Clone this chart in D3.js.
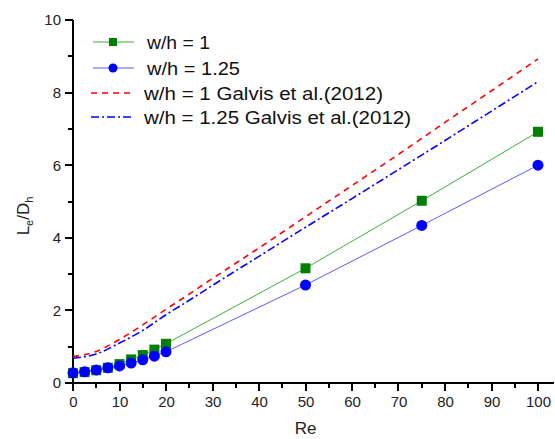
<!DOCTYPE html>
<html><head><meta charset="utf-8">
<script src="https://cdn.jsdelivr.net/npm/d3@7"></script>
<style>body{margin:0;background:#fff}svg{display:block}text{font-family:"Liberation Sans",Arial,sans-serif}</style>
</head><body><svg id="c" width="555" height="439"></svg>
<script>
const reSim = [0, 2.5, 5, 7.5, 10, 12.5, 15, 17.5, 20, 50, 75, 100];
const wh1 = [0.27, 0.30, 0.35, 0.42, 0.52, 0.65, 0.77, 0.92, 1.08, 3.16, 5.02, 6.92];
const wh125 = [0.28, 0.31, 0.36, 0.42, 0.47, 0.55, 0.64, 0.74, 0.86, 2.70, 4.34, 6.00];
const reGalvis = [0, 5, 10, 15, 20, 25, 30, 40, 50, 60, 70, 80, 90, 100];
const galvis1 = [0.73, 0.87, 1.20, 1.60, 2.03, 2.45, 2.88, 3.72, 4.58, 5.44, 6.30, 7.18, 8.05, 8.93];
const galvis125 = [0.68, 0.80, 1.10, 1.45, 1.88, 2.28, 2.69, 3.49, 4.29, 5.08, 5.88, 6.68, 7.49, 8.30];
const xTicks = [0, 10, 20, 30, 40, 50, 60, 70, 80, 90, 100];
const yTicks = [0, 2, 4, 6, 8, 10];
const legendLabels = ["w/h = 1", "w/h = 1.25", "w/h = 1 Galvis et al.(2012)", "w/h = 1.25 Galvis et al.(2012)"];

const svg = d3.select("#c");
const x = d3.scaleLinear().domain([0, 100]).range([73, 538]);
const y = d3.scaleLinear().domain([0, 10]).range([383, 20]);
const axisRight = 554;
const X0 = 73, Y0 = 383;

// x axis
const gx = svg.append("g").attr("transform", `translate(0,${Y0})`);
gx.call(d3.axisBottom(x).tickValues(xTicks).tickSize(8).tickPadding(4).tickSizeOuter(0));
gx.select(".domain").remove();
gx.selectAll(".tick line").remove();
gx.selectAll("line.major").data(xTicks).enter().append("line").attr("class", "major")
  .attr("x1", d => Math.round(x(d))).attr("x2", d => Math.round(x(d))).attr("y1", 0).attr("y2", 8)
  .attr("stroke", "#000").attr("stroke-width", 2);
gx.selectAll("line.minor").data(d3.range(5, 101, 10)).enter().append("line").attr("class", "minor")
  .attr("x1", d => Math.round(x(d))).attr("x2", d => Math.round(x(d))).attr("y1", 0).attr("y2", 5)
  .attr("stroke", "#000").attr("stroke-width", 2);
gx.append("line").attr("x1", X0 - 1).attr("x2", axisRight).attr("y1", 0).attr("y2", 0).attr("stroke", "#000").attr("stroke-width", 2);
gx.selectAll(".tick text").attr("font-size", 15).attr("fill", "#222").attr("dy", 0).attr("y", 24);

// y axis
const gy = svg.append("g").attr("transform", `translate(${X0},0)`);
gy.call(d3.axisLeft(y).tickValues(yTicks).tickSize(8).tickPadding(4).tickSizeOuter(0));
gy.select(".domain").remove();
gy.selectAll(".tick line").remove();
gy.selectAll("line.major").data(yTicks).enter().append("line").attr("class", "major")
  .attr("x1", 0).attr("x2", -8).attr("y1", d => Math.round(y(d))).attr("y2", d => Math.round(y(d)))
  .attr("stroke", "#000").attr("stroke-width", 2);
gy.selectAll("line.minor").data(d3.range(1, 10, 2)).enter().append("line").attr("class", "minor")
  .attr("x1", 0).attr("x2", -5).attr("y1", d => Math.round(y(d))).attr("y2", d => Math.round(y(d)))
  .attr("stroke", "#000").attr("stroke-width", 2);
gy.append("line").attr("x1", 0).attr("x2", 0).attr("y1", y(10)).attr("y2", Y0 + 1).attr("stroke", "#000").attr("stroke-width", 2);
gy.selectAll(".tick text").attr("font-size", 15).attr("fill", "#222");

// axis titles
svg.append("text").attr("x", x(50)).attr("y", 434).attr("text-anchor", "middle").attr("font-size", 17).attr("fill", "#222").text("Re");
const yl = svg.append("text").attr("transform", "translate(29,216) rotate(-90)").attr("text-anchor", "middle").attr("font-size", 17).attr("fill", "#222");
yl.append("tspan").text("L");
yl.append("tspan").attr("font-size", 11).attr("dy", 4).text("e");
yl.append("tspan").attr("dy", -4).text("/D");
yl.append("tspan").attr("font-size", 11).attr("dy", 4).text("h");

// lines
const smooth = (xs, ys) => d3.line().curve(d3.curveMonotoneX).x((d, i) => x(xs[i])).y(d => y(d))(ys);
const straight = (xs, ys) => d3.line().x((d, i) => x(xs[i])).y(d => y(d))(ys);
svg.append("path").attr("d", smooth(reGalvis, galvis1)).attr("fill", "none").attr("stroke", "#ff0000").attr("stroke-width", 1.6).attr("stroke-dasharray", "6,5");
svg.append("path").attr("d", smooth(reGalvis, galvis125)).attr("fill", "none").attr("stroke", "#0000ff").attr("stroke-width", 1.6).attr("stroke-dasharray", "8,3,2,3");
svg.append("path").attr("d", straight(reSim, wh1)).attr("fill", "none").attr("stroke", "#3cae3c").attr("stroke-width", 1);
svg.append("path").attr("d", straight(reSim, wh125)).attr("fill", "none").attr("stroke", "#5a5aff").attr("stroke-width", 1);

svg.selectAll("rect.sq").data(wh1).enter().append("rect").attr("class", "sq")
  .attr("x", (d, i) => x(reSim[i]) - 5).attr("y", d => y(d) - 5).attr("width", 10).attr("height", 10).attr("fill", "#008000");
svg.selectAll("circle.ci").data(wh125).enter().append("circle").attr("class", "ci")
  .attr("cx", (d, i) => x(reSim[i])).attr("cy", d => y(d)).attr("r", 5.5).attr("fill", "#0000ff");

// legend
const ly = [42, 68, 93, 117];
const lw = [63, 93, 239, 267];
const lg = svg.append("g");
lg.append("line").attr("x1", 93).attr("x2", 134).attr("y1", ly[0]).attr("y2", ly[0]).attr("stroke", "#3cae3c").attr("stroke-width", 1);
lg.append("rect").attr("x", 109).attr("y", ly[0] - 4).attr("width", 8).attr("height", 8).attr("fill", "#008000");
lg.append("line").attr("x1", 93).attr("x2", 134).attr("y1", ly[1]).attr("y2", ly[1]).attr("stroke", "#5a5aff").attr("stroke-width", 1);
lg.append("circle").attr("cx", 113).attr("cy", ly[1]).attr("r", 4.5).attr("fill", "#0000ff");
lg.append("line").attr("x1", 91).attr("x2", 134).attr("y1", ly[2]).attr("y2", ly[2]).attr("stroke", "#ff0000").attr("stroke-width", 1.6).attr("stroke-dasharray", "6,5");
lg.append("line").attr("x1", 91).attr("x2", 134).attr("y1", ly[3]).attr("y2", ly[3]).attr("stroke", "#0000ff").attr("stroke-width", 1.6).attr("stroke-dasharray", "8,3,2,3");
lg.selectAll("text.lt").data(legendLabels).enter().append("text").attr("class", "lt")
  .attr("x", (d, i) => i < 2 ? 147 : 144).attr("y", (d, i) => ly[i] + 6.5).attr("font-size", 17.5).attr("fill", "#111")
  .attr("textLength", (d, i) => lw[i]).attr("lengthAdjust", "spacingAndGlyphs").text(d => d);
</script></body></html>
